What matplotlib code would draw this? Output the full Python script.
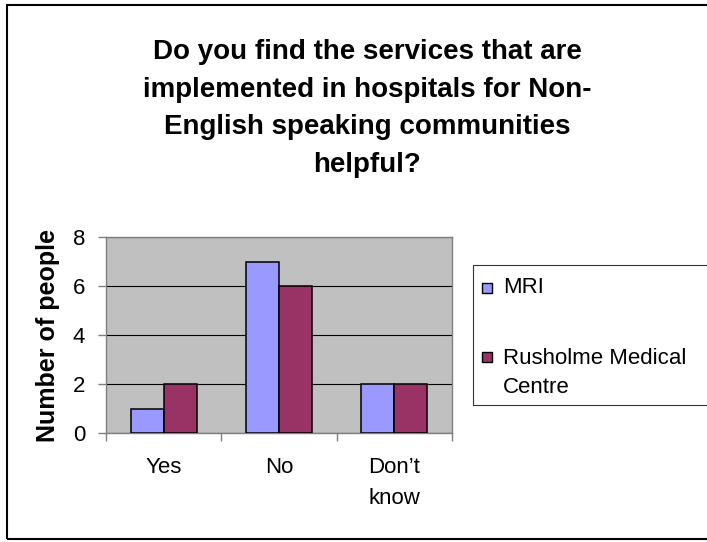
import numpy as np
import matplotlib.pyplot as plt
from matplotlib.patches import Rectangle

plt.rcParams['font.family'] = ['Liberation Sans', 'DejaVu Sans']

# Survey answers per hospital
answers = ['Yes', 'No', 'Don\u2019t\nknow']
series_names = ['MRI', 'Rusholme Medical\nCentre']
mri = [1, 7, 2]
rusholme = [2, 6, 2]
series_colors = ['#9999FF', '#993366']

W, H = 707, 542
fig = plt.figure(figsize=(W / 100, H / 100), dpi=100)
fig.patch.set_facecolor('white')

# outer chart border (runs past the right edge)
fig.patches.append(Rectangle((7 / W, 1 - 539 / H), 730 / W, 534 / H,
                             transform=fig.transFigure, fill=False,
                             edgecolor='black', linewidth=1.5, clip_on=False))

ax = fig.add_axes([106 / W, 1 - 433 / H, 346 / W, 196 / H])
ax.set_facecolor('#C0C0C0')

x = np.arange(len(answers))
w = 1 / 3.5
ax.bar(x - w / 2, mri, w, color=series_colors[0], edgecolor='black', linewidth=1.1, zorder=3)
ax.bar(x + w / 2, rusholme, w, color=series_colors[1], edgecolor='black', linewidth=1.1, zorder=3)

ax.set_xlim(-0.5, len(answers) - 0.5)
ax.set_ylim(0, 8)
ax.set_yticks([0, 2, 4, 6, 8])
ax.yaxis.grid(True, color='black', linewidth=0.8, zorder=1)
ax.set_axisbelow(True)

ax.set_xticks(x)
ax.set_xticklabels(answers, fontsize=16, linespacing=1.68)
ax.set_xticks(np.arange(-0.5, len(answers)), minor=True)
ax.tick_params(axis='x', which='major', length=0, pad=17)
ax.tick_params(axis='x', which='minor', length=6, width=1, color='#808080', direction='out')
ax.tick_params(axis='y', length=6, width=1, color='#808080', pad=9, labelsize=16)

for s in ax.spines.values():
    s.set_color('#808080')
    s.set_linewidth(1)

ax.set_ylabel('Number of people', fontsize=18, fontweight='bold')
ax.yaxis.set_label_coords(-0.132, 0.5)

fig.text(367 / W, 1 - 108.5 / H,
         'Do you find the services that are\nimplemented in hospitals for Non-\n'
         'English speaking communities\nhelpful?',
         ha='center', va='center', fontsize=20, fontweight='bold', linespacing=1.58)

# legend box, drawn by hand so the marker sits on the first text line
fig.patches.append(Rectangle((473 / W, 1 - 405 / H), 300 / W, 140 / H,
                             transform=fig.transFigure, fill=False,
                             edgecolor='#333333', linewidth=0.8, clip_on=False))
first_baselines = [293, 362]
line_step = 31
for name, col, yb in zip(series_names, series_colors, first_baselines):
    fig.patches.append(Rectangle((482 / W, 1 - yb / H), 10 / W, 10 / H,
                                 transform=fig.transFigure, facecolor=col,
                                 edgecolor='black', linewidth=1.0))
    last = yb + line_step * name.count('\n')
    fig.text(503 / W, 1 - last / H, name, ha='left', va='baseline',
             fontsize=16, linespacing=1.5)

fig.savefig('out.png', dpi=100)
